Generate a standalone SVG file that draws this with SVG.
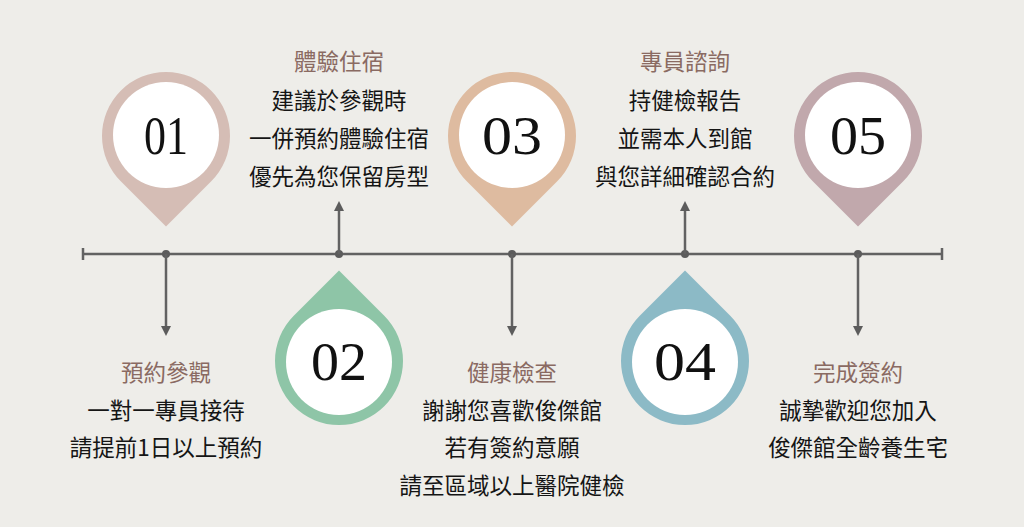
<svg xmlns="http://www.w3.org/2000/svg" width="1024" height="527" viewBox="0 0 1024 527">
<defs>
<style>
.bg{fill:#eeede9}
.line{stroke:#626262;stroke-width:2.5;fill:none}
.dot{fill:#5c5c5c}
.inner{fill:#ffffff}
.num{font-family:"Liberation Serif","DejaVu Serif",serif;font-size:55px;fill:#111;text-anchor:middle}
.title{font-family:"Noto Sans CJK TC","Noto Sans CJK SC",sans-serif;font-size:22.5px;fill:#8a6a62;text-anchor:middle}
.body{font-family:"Noto Sans CJK TC","Noto Sans CJK SC",sans-serif;font-size:22.5px;fill:#151515;text-anchor:middle}
</style>
<marker id="arr" viewBox="0 0 10 10" refX="5" refY="5" markerWidth="4" markerHeight="4" orient="auto-start-reverse">
<path d="M0,0 L10,5 L0,10 Z" fill="#5c5c5c"/>
</marker>
<path id="pinDown" d="M0,90.5 L-45.25,45.25 A64,64 0 1 1 45.25,45.25 Z"/>
<path id="pinUp" d="M0,-90.5 L-45.25,-45.25 A64,64 0 1 0 45.25,-45.25 Z"/>
</defs>
<rect class="bg" x="0" y="0" width="1024" height="527"/>

<g id="connectors">
<line class="line" x1="83" y1="254" x2="942" y2="254"/>
<line class="line" x1="83" y1="248" x2="83" y2="260"/>
<line class="line" x1="942" y1="248" x2="942" y2="260"/>
<circle class="dot" cx="166" cy="254" r="4"/>
<circle class="dot" cx="339" cy="254" r="4"/>
<circle class="dot" cx="512" cy="254" r="4"/>
<circle class="dot" cx="685" cy="254" r="4"/>
<circle class="dot" cx="858" cy="254" r="4"/>
<line class="line" x1="166" y1="254" x2="166" y2="331" marker-end="url(#arr)"/>
<line class="line" x1="339" y1="254" x2="339" y2="206" marker-end="url(#arr)"/>
<line class="line" x1="512" y1="254" x2="512" y2="331" marker-end="url(#arr)"/>
<line class="line" x1="685" y1="254" x2="685" y2="206" marker-end="url(#arr)"/>
<line class="line" x1="858" y1="254" x2="858" y2="331" marker-end="url(#arr)"/>
</g>

<g id="step1">
<use href="#pinDown" x="166" y="136" fill="#d5bdb5"/>
<circle class="inner" cx="166" cy="135" r="53"/>
<text class="num" x="166" y="154" textLength="44" lengthAdjust="spacingAndGlyphs">01</text>
<text class="title" x="166" y="381">預約參觀</text>
<text class="body" x="166" y="419">一對一專員接待</text>
<text class="body" x="166" y="456">請提前1日以上預約</text>
</g>

<g id="step2">
<use href="#pinUp" x="339" y="361" fill="#8ec5a7"/>
<circle class="inner" cx="339" cy="362" r="53"/>
<text class="num" x="339" y="380" textLength="56" lengthAdjust="spacingAndGlyphs">02</text>
<text class="title" x="339" y="70">體驗住宿</text>
<text class="body" x="339" y="109">建議於參觀時</text>
<text class="body" x="339" y="147">一併預約體驗住宿</text>
<text class="body" x="339" y="185">優先為您保留房型</text>
</g>

<g id="step3">
<use href="#pinDown" x="512" y="136" fill="#debba0"/>
<circle class="inner" cx="512" cy="135" r="53"/>
<text class="num" x="512" y="154" textLength="60" lengthAdjust="spacingAndGlyphs">03</text>
<text class="title" x="512" y="381">健康檢查</text>
<text class="body" x="512" y="419">謝謝您喜歡俊傑館</text>
<text class="body" x="512" y="456">若有簽約意願</text>
<text class="body" x="512" y="494">請至區域以上醫院健檢</text>
</g>

<g id="step4">
<use href="#pinUp" x="685" y="361" fill="#8cbac6"/>
<circle class="inner" cx="685" cy="362" r="53"/>
<text class="num" x="685" y="380" textLength="62" lengthAdjust="spacingAndGlyphs">04</text>
<text class="title" x="685" y="70">專員諮詢</text>
<text class="body" x="685" y="109">持健檢報告</text>
<text class="body" x="685" y="147">並需本人到館</text>
<text class="body" x="685" y="185">與您詳細確認合約</text>
</g>

<g id="step5">
<use href="#pinDown" x="858" y="136" fill="#c1a8ac"/>
<circle class="inner" cx="858" cy="135" r="53"/>
<text class="num" x="858" y="154" textLength="56" lengthAdjust="spacingAndGlyphs">05</text>
<text class="title" x="858" y="381">完成簽約</text>
<text class="body" x="858" y="419">誠摯歡迎您加入</text>
<text class="body" x="858" y="456">俊傑館全齡養生宅</text>
</g>
</svg>
